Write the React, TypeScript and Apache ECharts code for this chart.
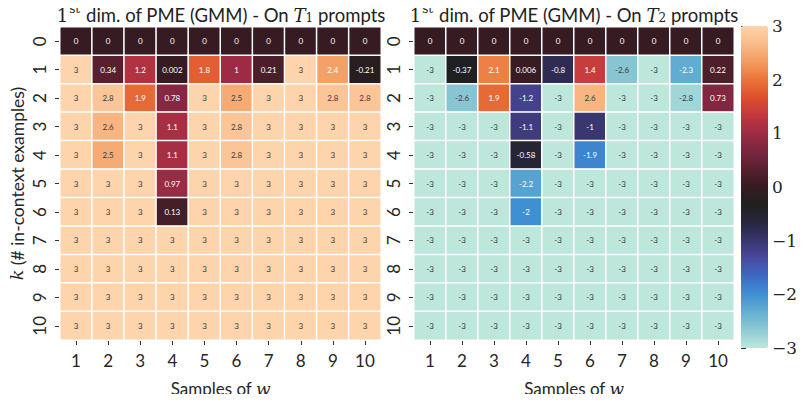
import React, { useEffect, useRef } from "react";
import * as echarts from "echarts";

const samples = ["1", "2", "3", "4", "5", "6", "7", "8", "9", "10"];
const kValues = ["0", "1", "2", "3", "4", "5", "6", "7", "8", "9", "10"];
const colorbarTicks = [-3, -2, -1, 0, 1, 2, 3];

// Values on T1 prompts, one row per k
const t1Row0 = [0, 0, 0, 0, 0, 0, 0, 0, 0, 0];
const t1Row1 = [3, 0.34, 1.2, 0.002, 1.8, 1, 0.21, 3, 2.4, -0.21];
const t1Row2 = [3, 2.8, 1.9, 0.78, 3, 2.5, 3, 3, 2.8, 2.8];
const t1Row3 = [3, 2.6, 3, 1.1, 3, 2.8, 3, 3, 3, 3];
const t1Row4 = [3, 2.5, 3, 1.1, 3, 2.8, 3, 3, 3, 3];
const t1Row5 = [3, 3, 3, 0.97, 3, 3, 3, 3, 3, 3];
const t1Row6 = [3, 3, 3, 0.13, 3, 3, 3, 3, 3, 3];
const t1Row7 = [3, 3, 3, 3, 3, 3, 3, 3, 3, 3];
const t1Row8 = [3, 3, 3, 3, 3, 3, 3, 3, 3, 3];
const t1Row9 = [3, 3, 3, 3, 3, 3, 3, 3, 3, 3];
const t1Row10 = [3, 3, 3, 3, 3, 3, 3, 3, 3, 3];

// Values on T2 prompts, one row per k
const t2Row0 = [0, 0, 0, 0, 0, 0, 0, 0, 0, 0];
const t2Row1 = [-3, -0.37, 2.1, 0.006, -0.8, 1.4, -2.6, -3, -2.3, 0.22];
const t2Row2 = [-3, -2.6, 1.9, -1.2, -3, 2.6, -3, -3, -2.8, 0.73];
const t2Row3 = [-3, -3, -3, -1.1, -3, -1, -3, -3, -3, -3];
const t2Row4 = [-3, -3, -3, -0.58, -3, -1.9, -3, -3, -3, -3];
const t2Row5 = [-3, -3, -3, -2.2, -3, -3, -3, -3, -3, -3];
const t2Row6 = [-3, -3, -3, -2, -3, -3, -3, -3, -3, -3];
const t2Row7 = [-3, -3, -3, -3, -3, -3, -3, -3, -3, -3];
const t2Row8 = [-3, -3, -3, -3, -3, -3, -3, -3, -3, -3];
const t2Row9 = [-3, -3, -3, -3, -3, -3, -3, -3, -3, -3];
const t2Row10 = [-3, -3, -3, -3, -3, -3, -3, -3, -3, -3];

const t1Rows = [t1Row0, t1Row1, t1Row2, t1Row3, t1Row4, t1Row5, t1Row6, t1Row7, t1Row8, t1Row9, t1Row10];
const t2Rows = [t2Row0, t2Row1, t2Row2, t2Row3, t2Row4, t2Row5, t2Row6, t2Row7, t2Row8, t2Row9, t2Row10];

// icefire-like colormap stops (from -3 to 3)
const icefire = [
  "#bde7db", "#8fcad3", "#65afd0", "#3f90d3", "#3d6bc6", "#4a4aa0", "#3a3670",
  "#282640", "#1f1f1f", "#361c22", "#57202f", "#7a2640", "#9d2b44",
  "#c2373f", "#dd4f2e", "#eb7439", "#f39b5f", "#f9bb8a", "#fdd4ab",
];

const SANS = "Lato, 'DejaVu Sans', sans-serif";
const SERIF = "'DejaVu Serif', 'Liberation Serif', serif";

function buildData(rows: number[][]) {
  const out: any[] = [];
  rows.forEach((row, yi) => {
    row.forEach((v, xi) => {
      out.push({
        value: [xi, yi, v],
        label: { color: Math.abs(v) >= 2.5 ? "#3a3a3a" : "#ffffff" },
      });
    });
  });
  return out;
}

function titleText(sub: string) {
  return {
    type: "text",
    style: {
      text: `{n|1}{sup|st}{s| dim. of PME (GMM) - On }{m|T}{sub|${sub}}{s| prompts}`,
      align: "center",
      verticalAlign: "middle",
      fill: "#222",
      rich: {
        n: { fontFamily: SERIF, fontSize: 18, fill: "#222", verticalAlign: "bottom", lineHeight: 22 },
        sup: { fontFamily: SERIF, fontSize: 12, fill: "#222", verticalAlign: "bottom", lineHeight: 12, padding: [0, 1, 9, 1] },
        s: { fontFamily: SANS, fontSize: 18.5, fill: "#222", verticalAlign: "bottom", lineHeight: 22 },
        m: { fontFamily: SERIF, fontSize: 18, fontStyle: "italic", fill: "#222", verticalAlign: "bottom", lineHeight: 22 },
        sub: { fontFamily: SERIF, fontSize: 12, fill: "#222", verticalAlign: "bottom", lineHeight: 12 },
      },
    },
  };
}

function makeXAxis(gridIndex: number) {
  return {
    type: "category",
    gridIndex,
    data: samples,
    position: "bottom",
    axisLine: { show: false },
    axisTick: { show: true, alignWithLabel: true, length: 5, lineStyle: { color: "#333", width: 1 } },
    axisLabel: { fontFamily: SANS, fontSize: 17, color: "#262626", margin: 12 },
    splitArea: { show: false },
    splitLine: { show: false },
    name: "Samples of {w|w}",
    nameLocation: "middle",
    nameGap: 40,
    nameMoveOverlap: false,
    nameTextStyle: {
      fontFamily: SANS,
      fontSize: 17,
      color: "#262626",
      rich: { w: { fontFamily: SERIF, fontStyle: "italic", fontSize: 17, color: "#262626" } },
    },
  };
}

function makeYAxis(gridIndex: number, withName: boolean) {
  return {
    type: "category",
    gridIndex,
    data: kValues,
    inverse: true,
    axisLine: { show: false },
    axisTick: { show: true, alignWithLabel: true, length: 5, lineStyle: { color: "#333", width: 1 } },
    axisLabel: { fontFamily: SANS, fontSize: 17, color: "#262626", rotate: 90, margin: 12 },
    splitArea: { show: false },
    splitLine: { show: false },
    name: withName ? "{k|k} (# in-context examples)" : "",
    nameLocation: "middle",
    nameRotate: 90,
    nameGap: 34,
    nameMoveOverlap: false,
    nameTextStyle: {
      fontFamily: SANS,
      fontSize: 17.5,
      color: "#262626",
      rich: { k: { fontFamily: SERIF, fontStyle: "italic", fontSize: 17.5, color: "#262626" } },
    },
  };
}

export default function App() {
  const ref = useRef<HTMLDivElement>(null);
  useEffect(() => {
    if (!ref.current) return;
    const chart = echarts.init(ref.current, null, { renderer: "svg" });
    const labelCommon = {
      show: true,
      fontFamily: SANS,
      fontSize: 8,
      formatter: (p: any) => String(p.value[2]),
    };
    const option: any = {
      animation: false,
      backgroundColor: "#ffffff",
      grid: [
        { left: 60, top: 27, width: 321, height: 320 },
        { left: 414, top: 27, width: 320, height: 320 },
        { left: 741, top: 26, width: 27, height: 322 },
      ],
      xAxis: [
        makeXAxis(0),
        makeXAxis(1),
        { type: "value", gridIndex: 2, show: false, min: 0, max: 1 },
      ],
      yAxis: [
        makeYAxis(0, true),
        makeYAxis(1, false),
        {
          type: "value",
          gridIndex: 2,
          min: -3,
          max: 3,
          interval: 1,
          position: "right",
          axisLine: { show: false },
          axisTick: { show: true, length: 5, lineStyle: { color: "#333", width: 1 } },
          axisLabel: {
            fontFamily: SERIF,
            fontSize: 17,
            color: "#262626",
            margin: 4,
            formatter: (v: number) => (v < 0 ? "\u2212" + Math.abs(v) : String(v)),
          },
          splitLine: { show: false },
          data: colorbarTicks,
        },
      ],
      visualMap: {
        type: "continuous",
        min: -3,
        max: 3,
        seriesIndex: [0, 1],
        calculable: false,
        realtime: false,
        orient: "vertical",
        left: 741,
        top: 26,
        itemWidth: 27,
        itemHeight: 322,
        padding: 0,
        text: null,
        showLabel: false,
        inRange: { color: icefire },
        hoverLink: false,
      },
      series: [
        {
          type: "heatmap",
          xAxisIndex: 0,
          yAxisIndex: 0,
          data: buildData(t1Rows),
          label: labelCommon,
          itemStyle: { borderColor: "#ffffff", borderWidth: 1.5 },
          emphasis: { disabled: true },
        },
        {
          type: "heatmap",
          xAxisIndex: 1,
          yAxisIndex: 1,
          data: buildData(t2Rows),
          label: labelCommon,
          itemStyle: { borderColor: "#ffffff", borderWidth: 1.5 },
          emphasis: { disabled: true },
        },
      ],
      graphic: [
        { ...titleText("1"), x: 221, y: 13 },
        { ...titleText("2"), x: 574, y: 13 },
      ],
    };
    chart.setOption(option);
    return () => chart.dispose();
  }, []);
  return <div ref={ref} style={{ width: 804, height: 402, margin: -8 }} />;
}
